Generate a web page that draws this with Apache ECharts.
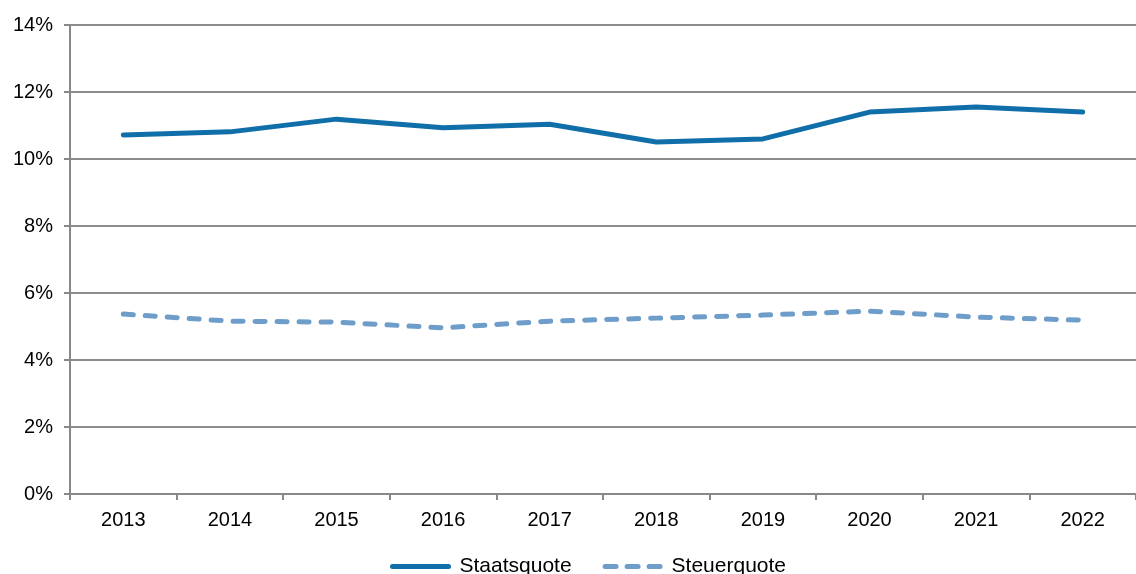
<!DOCTYPE html>
<html><head><meta charset="utf-8">
<script src="https://cdn.jsdelivr.net/npm/echarts@6/dist/echarts.min.js"></script>
<style>html,body{margin:0;padding:0;background:#fff}#c{width:1136px;height:574px}</style>
</head><body><div id="c"></div>
<script>
const years = ['2013','2014','2015','2016','2017','2018','2019','2020','2021','2022'];
const staatsquote = [10.72, 10.81, 11.19, 10.93, 11.04, 10.51, 10.60, 11.40, 11.55, 11.40];
const steuerquote = [5.37, 5.16, 5.13, 4.96, 5.16, 5.25, 5.34, 5.46, 5.28, 5.19];
const seriesNames = ['Staatsquote', 'Steuerquote'];

const chart = echarts.init(document.getElementById('c'));
const font = 'Liberation Sans, Arial, sans-serif';
chart.setOption({
  animation: false,
  grid: {left: 70, right: -12, top: 25, bottom: 80, containLabel: false},
  legend: {
    bottom: -8, left: 385,
    itemWidth: 62, itemHeight: 5, itemGap: 31,
    textStyle: {fontFamily: font, fontSize: 21, color: '#000', padding: [0, 0, 0, 3]},
    data: [
      {name: seriesNames[0], icon: 'path://M2,0H58A2.5,2.5 0 0 1 58,5H2A2.5,2.5 0 0 1 2,0Z'},
      {name: seriesNames[1], icon: 'path://M2,0H13A2.5,2.5 0 0 1 13,5H2A2.5,2.5 0 0 1 2,0Z M24,0H35A2.5,2.5 0 0 1 35,5H24A2.5,2.5 0 0 1 24,0Z M46,0H57A2.5,2.5 0 0 1 57,5H46A2.5,2.5 0 0 1 46,0Z'}
    ]
  },
  xAxis: {
    type: 'category', data: years, boundaryGap: true,
    axisLine: {lineStyle: {color: '#888', width: 2}},
    axisTick: {show: true, length: 6, lineStyle: {color: '#888', width: 2}},
    axisLabel: {fontFamily: font, fontSize: 20, color: '#000', margin: 16}
  },
  yAxis: {
    type: 'value', min: 0, max: 14, interval: 2,
    axisLine: {show: true, lineStyle: {color: '#888', width: 2}},
    axisTick: {show: true, length: 6, lineStyle: {color: '#888', width: 2}},
    splitLine: {lineStyle: {color: '#8c8c8c', width: 2}},
    axisLabel: {formatter: '{value}%', fontFamily: font, fontSize: 20, color: '#000', margin: 17}
  },
  series: [
    {name: seriesNames[0], type: 'line', data: staatsquote, symbol: 'none',
     lineStyle: {color: '#106ea8', width: 5, cap: 'round', join: 'round'}, itemStyle: {color: '#106ea8'}},
    {name: seriesNames[1], type: 'line', data: steuerquote, symbol: 'none',
     lineStyle: {color: '#6f9dc9', width: 5, type: [10, 12], cap: 'round', join: 'round'}, itemStyle: {color: '#6f9dc9'}}
  ]
});
</script></body></html>
